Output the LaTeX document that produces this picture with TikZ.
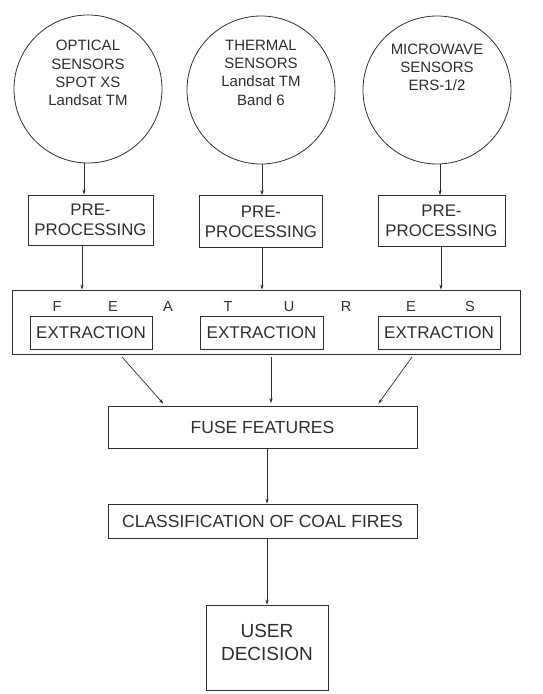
\documentclass[tikz,border=0pt]{standalone}
\usepackage{fontspec}
\setmainfont{Liberation Sans}
\usetikzlibrary{arrows.meta,positioning}
\definecolor{ink}{gray}{0.18}
\tikzset{
  base/.style={draw=ink, line width=0.8pt, text=ink, inner sep=0pt},
  sensor/.style={base, circle, minimum size=148pt},
  sensortext/.style={text=ink, align=center, font=\fontsize{15}{18.3}\selectfont},
  stepbox/.style={base, rectangle, align=center},
  arr/.style={draw=ink, line width=0.7pt, -{Stealth[length=5pt,width=3.2pt]}},
  letter/.style={text=ink, font=\fontsize{14.5}{16}\selectfont}
}
\begin{document}
\begin{tikzpicture}[x=1pt,y=-1pt]
  \useasboundingbox (0,0) rectangle (542,694);

  % sensor circles and their captions
  \node[sensor] (s1) at (88,89) {};
  \node[sensor] (s2) at (261,90) {};
  \node[sensor] (s3) at (437,90) {};
  \node[sensortext] (s1t) at (88,73) {OPTICAL\\SENSORS\\SPOT XS\\Landsat TM};
  \node[sensortext] (s2t) at (261,72.5) {THERMAL\\SENSORS\\Landsat TM\\Band 6};
  \node[sensortext] (s3t) at (437,67.5) {MICROWAVE\\SENSORS\\ERS-1/2};

  % pre-processing stage
  \node[stepbox, minimum width=125pt, minimum height=50pt,
        font=\fontsize{16.8}{20}\selectfont] (p1) at (90.5,220) {PRE-\\PROCESSING};
  \node[stepbox, minimum width=123pt, minimum height=52pt,
        font=\fontsize{16.8}{20}\selectfont] (p2) at (261,221.5) {PRE-\\PROCESSING};
  \node[stepbox, minimum width=127pt, minimum height=51pt,
        font=\fontsize{16.8}{20}\selectfont] (p3) at (441.5,221) {PRE-\\PROCESSING};

  % feature extraction frame
  \node[stepbox, minimum width=508pt, minimum height=64pt] (feat) at (266,322) {};
  \foreach \ch/\xx [count=\i] in {F/57,E/113,A/168,T/228,U/289,R/346,E/411,S/470}
    \node[letter] (l\i) at (\xx,307) {\ch};
  \node[stepbox, minimum width=122pt, minimum height=33pt,
        font=\fontsize{17}{20}\selectfont] (e1) at (91,333) {EXTRACTION};
  \node[stepbox, minimum width=123pt, minimum height=33pt,
        font=\fontsize{17}{20}\selectfont] (e2) at (261.5,333) {EXTRACTION};
  \node[stepbox, minimum width=122pt, minimum height=33pt,
        font=\fontsize{17}{20}\selectfont] (e3) at (439,333) {EXTRACTION};

  % fusion, classification and decision
  \node[stepbox, minimum width=309pt, minimum height=42pt,
        font=\fontsize{17.5}{20}\selectfont] (fuse) at (262.5,427) {FUSE FEATURES};
  \node[stepbox, minimum width=309pt, minimum height=34pt,
        font=\fontsize{17.5}{20}\selectfont] (cls) at (262.5,521) {CLASSIFICATION OF COAL FIRES};
  \node[stepbox, minimum width=122pt, minimum height=85pt,
        font=\fontsize{19}{23}\selectfont] (user) at (267,647.5) {};
  \node[text=ink, align=center, font=\fontsize{19}{23}\selectfont]
        (usert) at (267,642) {USER\\DECISION};

  % column guides for the vertical connectors
  \coordinate (c1) at (84,0);
  \coordinate (c2) at (262,0);
  \coordinate (c3) at (440,0);
  \coordinate (d1) at (82,0);
  \coordinate (d3) at (441,0);
  \coordinate (fa) at (122,357);
  \coordinate (fb) at (271,357);
  \coordinate (fc) at (412,357);
  \coordinate (ga) at (165,0);
  \coordinate (gc) at (377,0);
  \coordinate (h) at (267,0);

  % connectors
  \draw[arr] (s1.south -| c1) -- (p1.north -| c1);
  \draw[arr] (s2.south -| c2) -- (p2.north -| c2);
  \draw[arr] (s3.south -| c3) -- (p3.north -| c3);
  \draw[arr] (p1.south -| d1) -- (feat.north -| d1);
  \draw[arr] (p2.south -| c2) -- (feat.north -| c2);
  \draw[arr] (p3.south -| d3) -- (feat.north -| d3);
  \draw[arr, shorten >=2.5pt] (fa) -- (fuse.north -| ga);
  \draw[arr, shorten >=2.5pt] (fb) -- (fuse.north -| fb);
  \draw[arr, shorten >=2.5pt] (fc) -- (fuse.north -| gc);
  \draw[arr] (fuse.south -| h) -- (cls.north -| h);
  \draw[arr] (cls.south -| h) -- (user.north -| h);
\end{tikzpicture}
\end{document}
